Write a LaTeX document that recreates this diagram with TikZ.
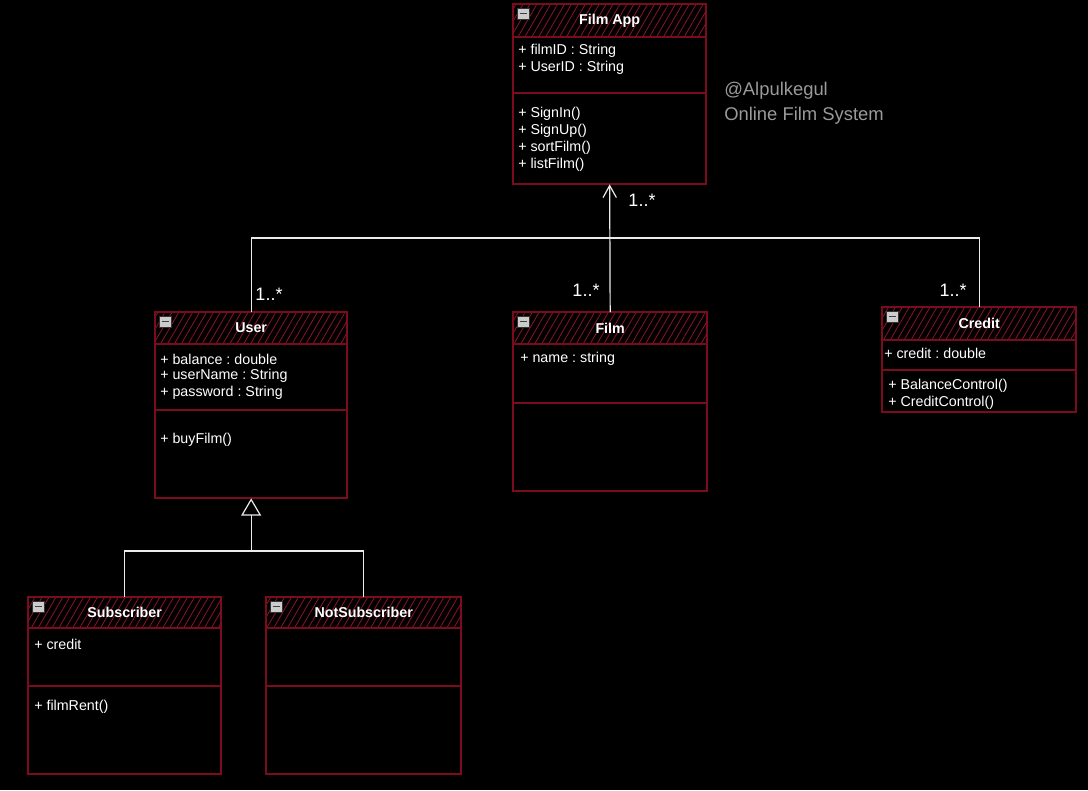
\documentclass[tikz,border=0pt]{standalone}
\usepackage{fontspec}
\setmainfont{Liberation Sans}
\frenchspacing
\usetikzlibrary{patterns.meta,arrows.meta,calc}
\definecolor{boxred}{HTML}{7A0C1E}
\definecolor{hatchred}{HTML}{8E1428}
\definecolor{notegray}{HTML}{9A9A9A}
\tikzset{
  classbox/.style={draw=boxred, line width=1pt, fill=black, inner sep=0pt},
  headfill/.style={pattern={Lines[angle=60,distance=4.5pt,line width=0.6pt]}, pattern color=hatchred},
  sepline/.style={draw=boxred, line width=1pt},
  titletext/.style={text=white, font=\bfseries\fontsize{10.7}{12}\selectfont, inner sep=0pt},
  membertext/.style={text=white, font=\fontsize{10.7}{12}\selectfont, anchor=west, inner sep=0pt},
  multtext/.style={text=white, font=\fontsize{13.5}{15}\selectfont, inner sep=0pt},
  notetext/.style={text=notegray, font=\fontsize{13.8}{15}\selectfont, anchor=west, inner sep=0pt},
  link/.style={draw=white!92!black, line width=0.9pt},
  iconbox/.style={draw=gray!40!black, fill=gray!40, line width=0.5pt},
}
% class box: name, left x, top y, width, height, header height, divider y, title
\newcommand\umlclass[8]{%
  \node[classbox, anchor=north west, minimum width=#4*0.75pt, minimum height=#5*0.75pt] (#1) at (#2,#3) {};
  \path[headfill] (#1.north west) rectangle ($(#1.north east)+(0,#6)$);
  \draw[sepline] (#1.north west) rectangle ($(#1.north east)+(0,#6)$);
  \draw[sepline] (#1.west |- 0,#7) -- (#1.east |- 0,#7);
  \draw[boxred, line width=1pt] (#1.north west) rectangle (#1.south east);
  \draw[iconbox] ($(#1.north west)+(4,4)$) rectangle ++(12,11);
  \draw[black!75, line width=1.3pt] ($(#1.north west)+(6.5,9.5)$) -- ++(7,0);
  \node[titletext] (#1-title) at ($(#1.north)+(0,#6/2)$) {#8};
}
\begin{document}
\begin{tikzpicture}[x=0.75pt,y=-0.75pt]
\fill[black] (0,0) rectangle (1088,790);
\useasboundingbox (0,0) rectangle (1088,790);

% classes
\umlclass{filmapp}{513}{4}{192}{179}{33}{93}{Film App}
\node[membertext] (fa1) at (518,51) {+ filmID : String};
\node[membertext] (fa2) at (518,68) {+ UserID : String};
\node[membertext] (fa3) at (518,114) {+ SignIn()};
\node[membertext] (fa4) at (518,131) {+ SignUp()};
\node[membertext] (fa5) at (518,148) {+ sortFilm()};
\node[membertext] (fa6) at (518,165) {+ listFilm()};

\umlclass{user}{155}{312}{191}{185}{32}{410}{User}
\node[membertext] (us1) at (160,359) {+ balance : double};
\node[membertext] (us2) at (160,376) {+ userName : String};
\node[membertext] (us3) at (160,393) {+ password : String};
\node[membertext] (us4) at (160,440) {+ buyFilm()};

\umlclass{film}{513}{312}{193}{178}{32}{403}{Film}
\node[membertext] (fi1) at (520,359) {+ name : string};

\umlclass{credit}{882}{307}{193}{104}{33}{370}{Credit}
\node[membertext] (cr1) at (884,353) {+ credit : double};
\node[membertext] (cr2) at (888,386) {+ BalanceControl()};
\node[membertext] (cr3) at (888,403) {+ CreditControl()};

\umlclass{sub}{28}{597}{192}{176}{31}{686}{Subscriber}
\node[membertext] (su1) at (34,644) {+ credit};
\node[membertext] (su2) at (34,707) {+ filmRent()};

\umlclass{notsub}{266}{597}{194}{176}{31}{686}{NotSubscriber}

% associations towards Film App
\coordinate (bus) at (0,238);
\draw[link, -{Straight Barb[length=9pt,width=10pt,line width=0.9pt]}] (film.north) -- (filmapp.south);
\draw[link] (user.north) -- (user.north |- bus) -- (credit.north |- bus) -- (credit.north);
\node[multtext] (m0) at (642,200) {1..*};
\node[multtext] (m1) at (269,294) {1..*};
\node[multtext] (m2) at (586,290) {1..*};
\node[multtext] (m3) at (953,290) {1..*};

% generalization
\coordinate (gbus) at (0,551);
\draw[link, -{Triangle[open,length=13pt,width=15pt,line width=0.9pt]}] (user.south |- gbus) -- (user.south);
\draw[link] (sub.north) -- (sub.north |- gbus) -- (notsub.north |- gbus) -- (notsub.north);

% note
\node[notetext] (n1) at (724,91) {@Alpulkegul};
\node[notetext] (n2) at (724,116) {Online Film System};
\end{tikzpicture}
\end{document}
